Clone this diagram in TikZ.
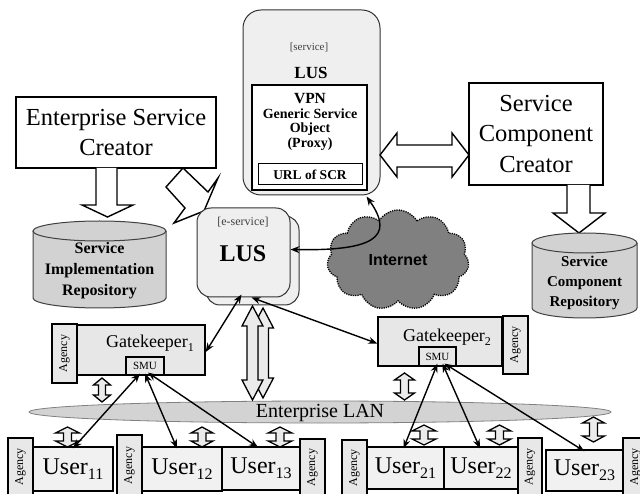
\documentclass[tikz,border=0pt]{standalone}
\usepackage{fontspec}
\setmainfont{Liberation Serif}
\newfontfamily\arialfont{Liberation Sans}
\usetikzlibrary{shapes.symbols,shapes.geometric,arrows.meta}
\definecolor{lusfill}{HTML}{EFEFEF}
\definecolor{gkfill}{HTML}{E7E7E7}
\definecolor{agfill}{HTML}{E8E8E8}
\definecolor{userfill}{HTML}{F1F1F1}
\definecolor{cylfill}{HTML}{D2D2D2}
\definecolor{cloudgray}{HTML}{808080}
\definecolor{lanfill}{HTML}{D3D3D3}
\definecolor{arrfill}{HTML}{EBEBEB}
\newcommand\vdarrow[6]{%
\draw[dblarr] ({#1},{#2}) -- ({#1+#4},{#2+#6}) -- ({#1+#5},{#2+#6}) -- ({#1+#5},{#3-#6}) -- ({#1+#4},{#3-#6}) -- ({#1},{#3}) -- ({#1-#4},{#3-#6}) -- ({#1-#5},{#3-#6}) -- ({#1-#5},{#2+#6}) -- ({#1-#4},{#2+#6}) -- cycle;}
\newcommand\cylshape[5]{%
\path[fill=cylfill] ({#1},{#3+#5}) -- ({#1},{#4-#5}) arc[start angle=180,end angle=0,x radius={(#2-#1)/2},y radius=#5] -- ({#2},{#3+#5}) -- cycle;
\draw[line width=1pt,black!75] ({#1},{#3+#5}) -- ({#1},{#4-#5}) arc[start angle=180,end angle=0,x radius={(#2-#1)/2},y radius=#5] -- ({#2},{#3+#5});
\draw[line width=1pt,black!75,fill=cylfill] ({(#1+#2)/2},{#3+#5}) ellipse[x radius={(#2-#1)/2},y radius=#5];}
\newcommand\usr[1]{User\raisebox{-5pt}{\fontsize{16}{16}\selectfont #1}}
\newcommand\gkp[1]{Gatekeeper\raisebox{-4pt}{\fontsize{12}{12}\selectfont #1}}
\begin{document}
\begin{tikzpicture}[x=1pt,y=-1pt,
  box/.style={draw,line width=1.4pt,inner sep=0pt,rectangle},
  agency/.style={draw,line width=1.2pt,fill=agfill,rotate=90,inner sep=0pt,minimum height=25pt,font=\fontsize{12}{12}\selectfont},
  userbox/.style={box,fill=userfill,font=\fontsize{24}{24}\selectfont},
  gkbox/.style={box,fill=gkfill},
  hollow/.style={draw,line width=1.4pt,fill=white,line join=miter},
  dblarr/.style={draw,line width=1.3pt,fill=arrfill,line join=miter},
  conn/.style={line width=1.4pt,{Stealth[length=9pt,width=7pt]}-{Stealth[length=9pt,width=7pt]}},
  bigtxt/.style={font=\fontsize{24.5}{30.5}\selectfont,align=center}]
\useasboundingbox (0,0) rectangle (640,494);
\clip (0,0) rectangle (640,494);

% creators
\node[box,fill=white,minimum width=200pt,minimum height=71pt,bigtxt] (esc) at (116,132.5) {Enterprise Service\\Creator};
\node[box,fill=white,minimum width=134pt,minimum height=102pt,bigtxt] (scc) at (536,134) {Service\\Component\\Creator};

% block arrows from creators
\draw[hollow] (96,168) -- (96,205) -- (82,205) -- (107.5,217) -- (133,205) -- (117,205) -- (117,168);
\draw[hollow] (567,185) -- (567,213) -- (553,213) -- (579,233) -- (605,213) -- (590,213) -- (590,185);
\draw[hollow] (183,168) -- (166,187) -- (185,208) -- (174,223) -- (204,211) -- (218,178) -- (208,192) -- cycle;

% cylinders
\cylshape{33}{166}{221}{308}{10}
\node[font=\bfseries\fontsize{16}{21}\selectfont,align=center] (sir) at (99.5,271) {Service\\Implementation\\Repository};
\cylshape{532}{637}{233}{318}{10}
\node[font=\bfseries\fontsize{15}{20}\selectfont,align=center] (scr) at (584.5,283) {Service\\Component\\Repository};

% top LUS
\node[draw=black!80,line width=1pt,rounded corners=18pt,fill=lusfill,minimum width=137pt,minimum height=185pt] (topLUS) at (311.5,102.5) {};
\node[font=\fontsize{11}{11}\selectfont,text=black!75] (svc) at (309,47) {[service]};
\node[font=\bfseries\fontsize{17}{17}\selectfont] (lus1) at (311,73) {LUS};
\node[box,line width=2pt,fill=white,minimum width=115pt,minimum height=105pt] (vpn) at (309.5,137.5) {};
\node[font=\bfseries\fontsize{14}{14.8}\selectfont,align=center] (vpntxt) at (310,122) {{\fontsize{15.5}{15}\selectfont VPN}\\Generic Service\\Object\\(Proxy)};
\node[box,line width=1pt,fill=white,minimum width=104pt,minimum height=21pt,font=\bfseries\fontsize{13.5}{13.5}\selectfont] (url) at (310,174.5) {URL of SCR};

% LUS <-> SCC
\draw[hollow] (380,155) -- (397,133) -- (397,145) -- (452,145) -- (452,133) -- (469,155) -- (452,177) -- (452,167) -- (397,167) -- (397,177) -- cycle;

% e-service LUS
\node[draw=black!80,line width=1pt,rounded corners=14pt,fill=lusfill,minimum width=93pt,minimum height=89pt] (eLUSb) at (252.5,260.5) {};
\node[draw=black!80,line width=1pt,rounded corners=14pt,fill=lusfill,minimum width=93pt,minimum height=89pt] (eLUSf) at (243.5,252.5) {};
\node[font=\fontsize{12}{12}\selectfont,text=black!75] (esv) at (243,222) {[e-service]};
\node[font=\bfseries\fontsize{24}{24}\selectfont] (lus2) at (243,254) {LUS};

% Internet cloud
\node[cloud,cloud puffs=11,cloud puff arc=120,aspect=1.45,draw,dash pattern=on 1.2pt off 1.1pt,line width=1.3pt,fill=cloudgray,minimum width=142pt,minimum height=100pt,inner sep=0pt,font=\arialfont\bfseries\fontsize{16}{16}\selectfont] (net) at (398,260) {Internet};

% LAN
\node[draw=black!50,line width=0.8pt,ellipse,fill=lanfill,minimum width=582pt,minimum height=22pt,inner sep=0pt] (lan) at (320,412) {};
\node[font=\fontsize{20}{20}\selectfont] (lantxt) at (320,413) {Enterprise LAN};

% Gatekeepers
\node[gkbox,minimum width=128pt,minimum height=50pt] (gk1) at (141,350) {};
\node[font=\fontsize{18}{18}\selectfont] (gk1txt) at (150,343) {\gkp{1}};
\node[box,line width=1.2pt,fill=gkfill,minimum width=38pt,minimum height=18pt,font=\fontsize{11}{11}\selectfont] (smu1) at (145,366) {SMU};
\node[agency,minimum width=59pt] (ag1) at (64.5,353.5) {Agency};

\node[gkbox,minimum width=124pt,minimum height=49pt] (gk2) at (440,341.5) {};
\node[font=\fontsize{18}{18}\selectfont] (gk2txt) at (447,337) {\gkp{2}};
\node[box,line width=1.2pt,fill=gkfill,minimum width=37pt,minimum height=19pt,font=\fontsize{11}{11}\selectfont] (smu2) at (437.5,356.5) {SMU};
\node[agency,minimum width=58pt] (ag2) at (515.5,345) {Agency};

% Users
\node[agency,minimum width=58pt] (a11) at (20.5,467) {Agency};
\node[userbox,minimum width=80pt,minimum height=44pt] (u11) at (73,469) {\usr{11}};
\node[agency,minimum width=61pt] (a12) at (129.5,465.5) {Agency};
\node[userbox,minimum width=80pt,minimum height=44pt] (u12) at (182,469) {\usr{12}};
\node[userbox,minimum width=78pt,minimum height=43pt] (u13) at (261,468.5) {\usr{13}};
\node[agency,minimum width=57pt] (a13) at (312.5,467.5) {Agency};
\node[agency,minimum width=56pt] (a21) at (354.5,468) {Agency};
\node[userbox,minimum width=77pt,minimum height=42pt] (u21) at (405.5,468) {\usr{21}};
\node[userbox,minimum width=74pt,minimum height=42pt] (u22) at (481,468) {\usr{22}};
\node[agency,minimum width=58pt,minimum height=24pt] (a22) at (530,467) {Agency};
\node[userbox,minimum width=77pt,minimum height=41pt] (u23) at (584.5,470.5) {\usr{23}};
\node[agency,minimum width=58pt] (a23) at (635.5,467) {Agency};

% hollow double arrows
\vdarrow{263}{308}{398}{10.5}{5.5}{20}
\vdarrow{252.5}{306}{400}{10.5}{5.5}{20}
\vdarrow{102}{378}{402}{8.5}{3.5}{7}
\vdarrow{404.5}{373}{400}{10}{4}{7}
\vdarrow{67.5}{427}{447}{12}{4}{6}
\vdarrow{202}{427}{447}{11}{4}{6}
\vdarrow{280}{427}{447}{12}{4}{6}
\vdarrow{424}{425}{445}{12}{4}{6}
\vdarrow{499.5}{425}{445}{11.5}{4}{6}
\vdarrow{593.5}{417}{442}{11}{4}{6}

% black connectors
\draw[conn] ([xshift=-2pt,yshift=3pt]eLUSf.south) -- ([yshift=-2pt]gk1.east);
\draw[conn] ([xshift=8pt]eLUSf.south) -- ([yshift=-2pt]gk2.west);
\draw[conn] ([yshift=3pt]eLUSf.east) .. controls (372,251) and (396,238) .. ([xshift=55pt,yshift=-1pt]topLUS.south);
\draw[conn] ([xshift=-5pt,yshift=2pt]smu1.south) -- ([yshift=-2pt]u11.north);
\draw[conn] ([xshift=0pt,yshift=2pt]smu1.south) -- ([xshift=-5pt,yshift=-2pt]u12.north);
\draw[conn] ([xshift=3pt,yshift=3pt]smu1.south) -- ([xshift=-3pt,yshift=-1pt]u13.north);
\draw[conn] ([xshift=0pt,yshift=3pt]smu2.south) -- ([xshift=-2pt,yshift=-2pt]u21.north);
\draw[conn] ([xshift=5pt,yshift=3pt]smu2.south) -- ([xshift=-1pt,yshift=-2pt]u22.north);
\draw[conn] ([xshift=7pt,yshift=3pt]smu2.south) -- ([xshift=0pt,yshift=-2pt]u23.north);
\end{tikzpicture}
\end{document}
